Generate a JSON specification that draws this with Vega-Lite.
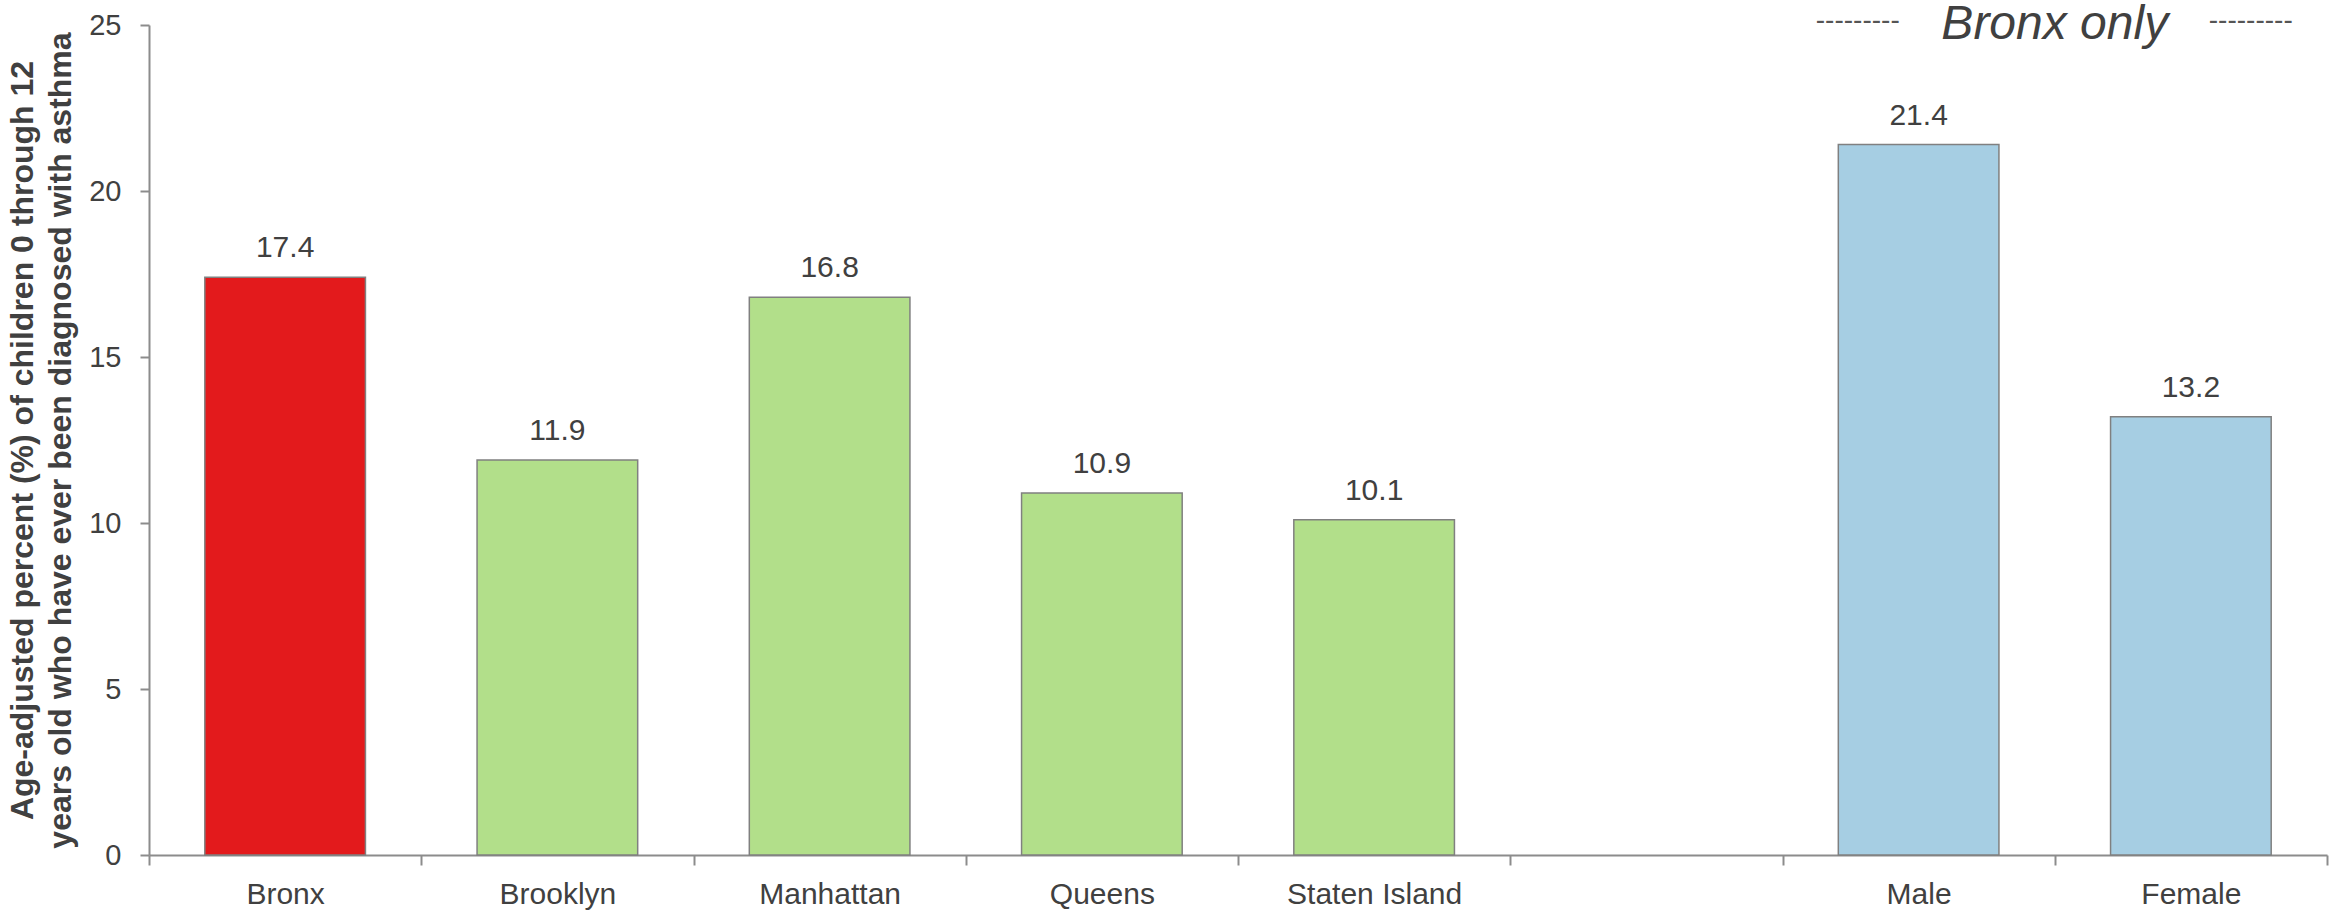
{
  "$schema": "https://vega.github.io/schema/vega-lite/v6.json",
  "autosize": {"type": "none"},
  "padding": {"left": 149, "top": 25, "right": 6, "bottom": 56},
  "width": 2178,
  "height": 830,
  "background": "white",
  "config": {
    "view": {"stroke": null},
    "font": "Liberation Sans"
  },
  "datasets": {
    "bars": [
      {"area": "Bronx", "group": "Bronx", "pct": 17.4},
      {"area": "Brooklyn", "group": "Other borough", "pct": 11.9},
      {"area": "Manhattan", "group": "Other borough", "pct": 16.8},
      {"area": "Queens", "group": "Other borough", "pct": 10.9},
      {"area": "Staten Island", "group": "Other borough", "pct": 10.1},
      {"area": "Male", "group": "Sex (Bronx)", "pct": 21.4},
      {"area": "Female", "group": "Sex (Bronx)", "pct": 13.2}
    ],
    "note": [
      {"area": "Male", "pct": 25, "text": "Bronx only", "dash": "---------"}
    ]
  },
  "layer": [
    {
      "data": {"name": "bars"},
      "mark": {"type": "bar", "width": {"band": 0.59}, "stroke": "#808080", "strokeWidth": 1.5},
      "encoding": {
        "x": {
          "field": "area", "type": "nominal", "sort": null,
          "scale": {"domain": ["Bronx", "Brooklyn", "Manhattan", "Queens", "Staten Island", " ", "Male", "Female"], "paddingInner": 0, "paddingOuter": 0},
          "axis": {
            "title": null, "labelAngle": 0, "labelFontSize": 30, "labelColor": "#404040",
            "labelPadding": 14, "tickBand": "extent", "tickSize": 10, "tickColor": "#8c8c8c", "tickWidth": 2,
            "domainColor": "#8c8c8c", "domainWidth": 2, "labelBaseline": "top"
          }
        },
        "y": {
          "field": "pct", "type": "quantitative",
          "scale": {"domain": [0, 25], "nice": false},
          "axis": {
            "values": [0, 5, 10, 15, 20, 25], "grid": false,
            "title": ["Age-adjusted percent (%) of children 0 through 12", "years old who have ever been diagnosed with asthma"],
            "titleFontSize": 32, "titleFontWeight": "bold", "titleColor": "#404040",
            "titleAngle": -90, "titleX": -117, "titleY": 415, "titleAlign": "center", "titleBaseline": "alphabetic", "titleLineHeight": 38,
            "labelFontSize": 29, "labelColor": "#404040", "labelPadding": 19,
            "tickSize": 9, "tickColor": "#8c8c8c", "tickWidth": 2,
            "domainColor": "#8c8c8c", "domainWidth": 2
          }
        },
        "color": {
          "field": "group", "type": "nominal",
          "scale": {"domain": ["Bronx", "Other borough", "Sex (Bronx)"], "range": ["#E31A1C", "#B2DF8A", "#A6CEE3"]},
          "legend": null
        }
      }
    },
    {
      "data": {"name": "bars"},
      "mark": {"type": "text", "fontSize": 30, "color": "#404040", "baseline": "alphabetic", "dy": -20},
      "encoding": {
        "x": {"field": "area", "type": "nominal", "sort": null},
        "y": {"field": "pct", "type": "quantitative"},
        "text": {"field": "pct", "type": "quantitative", "format": ".1f"}
      }
    },
    {
      "data": {"name": "note"},
      "mark": {"type": "text", "fontSize": 48, "fontStyle": "italic", "color": "#404040", "baseline": "alphabetic", "align": "center", "dy": 14},
      "encoding": {
        "x": {"field": "area", "type": "nominal", "bandPosition": 1},
        "y": {"field": "pct", "type": "quantitative"},
        "text": {"field": "text"}
      }
    },
    {
      "data": {"name": "note"},
      "mark": {"type": "text", "fontSize": 28, "color": "#555555", "baseline": "alphabetic", "align": "center", "dy": 4, "dx": -197},
      "encoding": {
        "x": {"field": "area", "type": "nominal", "bandPosition": 1},
        "y": {"field": "pct", "type": "quantitative"},
        "text": {"field": "dash"}
      }
    },
    {
      "data": {"name": "note"},
      "mark": {"type": "text", "fontSize": 28, "color": "#555555", "baseline": "alphabetic", "align": "center", "dy": 4, "dx": 196},
      "encoding": {
        "x": {"field": "area", "type": "nominal", "bandPosition": 1},
        "y": {"field": "pct", "type": "quantitative"},
        "text": {"field": "dash"}
      }
    }
  ]
}
